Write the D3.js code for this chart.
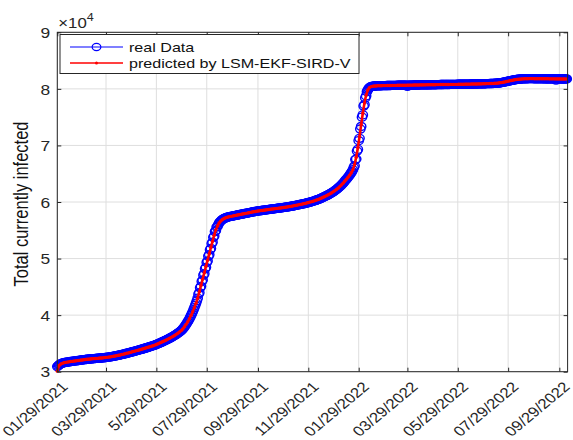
<!DOCTYPE html>
<html>
<head>
<meta charset="utf-8">
<script src="https://cdn.jsdelivr.net/npm/d3@7"></script>
<style>
  html, body { margin: 0; padding: 0; background: #fff; }
  svg { display: block; font-family: "Liberation Sans", Arial, Helvetica, sans-serif; }
</style>
</head>
<body>
<svg id="chart" width="573" height="440"></svg>
<script>
// ---- data ---------------------------------------------------------------
const startDate = "2021-01-29";   // first day of the series
const endDate = "2022-10-09";     // right end of the time axis

// Daily reported number of currently infected people (one value per day)
const realData = [
  30900, 31050, 31180, 31290, 31380, 31450, 31500, 31550, 31590, 31620,
  31650, 31670, 31700, 31720, 31740, 31760, 31790, 31810, 31830, 31850,
  31870, 31890, 31910, 31930, 31950, 31970, 31990, 32010, 32040, 32060,
  32080, 32100, 32120, 32140, 32150, 32170, 32190, 32200, 32220, 32240,
  32250, 32270, 32280, 32300, 32310, 32320, 32340, 32350, 32360, 32380,
  32390, 32400, 32410, 32420, 32430, 32450, 32460, 32480, 32500, 32520,
  32540, 32560, 32580, 32600, 32620, 32650, 32670, 32700, 32720, 32750,
  32780, 32810, 32840, 32870, 32900, 32930, 32960, 33000, 33030, 33070,
  33100, 33140, 33170, 33210, 33250, 33280, 33320, 33360, 33400, 33440,
  33480, 33520, 33560, 33600, 33640, 33680, 33720, 33760, 33800, 33840,
  33880, 33920, 33960, 34000, 34050, 34090, 34140, 34180, 34230, 34270,
  34320, 34360, 34410, 34460, 34500, 34550, 34600, 34650, 34700, 34760,
  34820, 34880, 34940, 35000, 35070, 35130, 35200, 35260, 35330, 35400,
  35470, 35540, 35610, 35680, 35760, 35830, 35910, 35990, 36070, 36150,
  36230, 36320, 36410, 36500, 36600, 36700, 36800, 36910, 37020, 37140,
  37260, 37390, 37560, 37740, 37940, 38150, 38370, 38600, 38840, 39090,
  39350, 39640, 39950, 40250, 40600, 40960, 41330, 41720, 42120, 42540,
  43000, 43710, 43970, 44830, 45090, 45950, 46210, 47070, 47330, 48190,
  48450, 49310, 49570, 50430, 50690, 51550, 51800, 52650, 52900, 53750,
  53980, 54780, 54930, 55560, 55670, 56010, 56300, 56480, 56640, 56780,
  56900, 57000, 57080, 57150, 57210, 57260, 57310, 57350, 57390, 57420,
  57450, 57480, 57510, 57540, 57570, 57600, 57630, 57660, 57690, 57720,
  57750, 57780, 57810, 57840, 57870, 57900, 57930, 57960, 57990, 58010,
  58040, 58070, 58100, 58130, 58160, 58190, 58220, 58250, 58280, 58310,
  58330, 58360, 58390, 58410, 58430, 58450, 58470, 58490, 58510, 58530,
  58550, 58570, 58590, 58610, 58630, 58650, 58670, 58690, 58710, 58730,
  58750, 58770, 58790, 58810, 58830, 58850, 58870, 58890, 58910, 58930,
  58950, 58970, 58990, 59010, 59030, 59050, 59070, 59090, 59110, 59140,
  59160, 59190, 59210, 59240, 59260, 59290, 59320, 59350, 59380, 59410,
  59440, 59470, 59500, 59530, 59560, 59590, 59620, 59650, 59680, 59710,
  59740, 59780, 59820, 59860, 59900, 59940, 59980, 60020, 60060, 60100,
  60150, 60200, 60250, 60300, 60350, 60400, 60450, 60510, 60570, 60630,
  60700, 60770, 60840, 60910, 60980, 61050, 61120, 61190, 61270, 61350,
  61430, 61510, 61600, 61690, 61790, 61890, 61990, 62100, 62210, 62330,
  62450, 62580, 62710, 62850, 63000, 63150, 63310, 63480, 63660, 63850,
  64000, 64180, 64360, 64550, 64750, 64960, 65180, 65420, 65700, 66100,
  66400, 67500, 67600, 69000, 69300, 70850, 71250, 72900, 73350, 75000,
  75400, 76950, 77200, 78400, 78750, 79500, 79800, 80050, 80220, 80330,
  80400, 80430, 80460, 80480, 80500, 80510, 80520, 80530, 80540, 80540,
  80550, 80550, 80560, 80560, 80570, 80570, 80580, 80580, 80580, 80590,
  80590, 80590, 80600, 80600, 80600, 80610, 80610, 80610, 80620, 80620,
  80620, 80620, 80630, 80630, 80630, 80630, 80640, 80640, 80640, 80640,
  80650, 80650, 80650, 80650, 80450, 80660, 80660, 80660, 80670, 80670,
  80670, 80670, 80680, 80680, 80680, 80680, 80690, 80690, 80690, 80690,
  80700, 80700, 80700, 80700, 80710, 80710, 80710, 80710, 80720, 80720,
  80720, 80720, 80730, 80730, 80730, 80730, 80740, 80740, 80740, 80740,
  80750, 80750, 80750, 80750, 80760, 80760, 80760, 80760, 80770, 80770,
  80770, 80770, 80780, 80780, 80780, 80780, 80790, 80790, 80790, 80790,
  80800, 80800, 80800, 80800, 80800, 80810, 80810, 80810, 80810, 80820,
  80820, 80820, 80820, 80830, 80830, 80830, 80830, 80840, 80840, 80840,
  80840, 80850, 80850, 80850, 80860, 80860, 80860, 80870, 80870, 80870,
  80880, 80880, 80880, 80890, 80890, 80900, 80900, 80900, 80910, 80910,
  80920, 80920, 80930, 80930, 80940, 80940, 80950, 80960, 80960, 80970,
  80980, 80990, 81000, 81010, 81030, 81050, 81070, 81090, 81110, 81140,
  81170, 81200, 81230, 81260, 81290, 81330, 81360, 81390, 81430, 81460,
  81490, 81520, 81550, 81580, 81600, 81630, 81650, 81670, 81690, 81710,
  81720, 81740, 81750, 81760, 81770, 81780, 81790, 81790, 81800, 81800,
  81800, 81810, 81810, 81810, 81810, 81810, 81810, 81800, 81800, 81800,
  81800, 81800, 81800, 81800, 81790, 81790, 81790, 81790, 81790, 81790,
  81780, 81780, 81780, 81780, 81780, 81780, 81770, 81770, 81770, 81770,
  81770, 81770, 81770, 81760, 81550, 81760, 81760, 81760, 81760, 81760,
  81750, 81750, 81750, 81750, 81750, 81750, 81750, 81750
];

// Model estimate, one value every predictedStep days
const predictedStep = 2;
const predictedData = [
  30100, 31050, 31330, 31480, 31580, 31650, 31700, 31740, 31790, 31830,
  31870, 31910, 31950, 31990, 32040, 32080, 32120, 32150, 32190, 32220,
  32250, 32280, 32310, 32340, 32360, 32390, 32410, 32430, 32460, 32500,
  32540, 32580, 32620, 32670, 32720, 32780, 32840, 32900, 32960, 33030,
  33100, 33170, 33250, 33320, 33400, 33480, 33560, 33640, 33720, 33800,
  33880, 33960, 34050, 34140, 34230, 34320, 34410, 34500, 34600, 34700,
  34820, 34940, 35070, 35200, 35330, 35470, 35610, 35760, 35910, 36070,
  36230, 36410, 36600, 36800, 37020, 37260, 37560, 37940, 38370, 38840,
  39350, 39950, 40600, 41330, 42120, 43000, 44120, 45240, 46360, 47480,
  48600, 49720, 50840, 51950, 53050, 54130, 55080, 55770, 56300, 56640,
  56900, 57080, 57210, 57310, 57390, 57450, 57510, 57570, 57630, 57690,
  57750, 57810, 57870, 57930, 57990, 58040, 58100, 58160, 58220, 58280,
  58330, 58390, 58430, 58470, 58510, 58550, 58590, 58630, 58670, 58710,
  58750, 58790, 58830, 58870, 58910, 58950, 58990, 59030, 59070, 59110,
  59160, 59210, 59260, 59320, 59380, 59440, 59500, 59560, 59620, 59680,
  59740, 59820, 59900, 59980, 60060, 60150, 60250, 60350, 60450, 60570,
  60700, 60840, 60980, 61120, 61270, 61430, 61600, 61790, 61990, 62210,
  62450, 62710, 63000, 63310, 63660, 64000, 64360, 64750, 65180, 65700,
  66600, 67900, 69600, 71550, 73650, 75700, 77500, 78900, 79800, 80220,
  80400, 80460, 80500, 80520, 80540, 80550, 80560, 80570, 80580, 80580,
  80590, 80600, 80600, 80610, 80620, 80620, 80630, 80630, 80640, 80640,
  80650, 80650, 80660, 80660, 80670, 80670, 80680, 80680, 80690, 80690,
  80700, 80700, 80710, 80710, 80720, 80720, 80730, 80730, 80740, 80740,
  80750, 80750, 80760, 80760, 80770, 80770, 80780, 80780, 80790, 80790,
  80800, 80800, 80800, 80810, 80810, 80820, 80820, 80830, 80830, 80840,
  80840, 80850, 80860, 80860, 80870, 80880, 80880, 80890, 80900, 80910,
  80920, 80930, 80940, 80950, 80960, 80980, 81000, 81030, 81070, 81110,
  81170, 81230, 81290, 81360, 81430, 81490, 81550, 81600, 81650, 81690,
  81720, 81750, 81770, 81790, 81800, 81800, 81810, 81810, 81810, 81800,
  81800, 81800, 81790, 81790, 81790, 81780, 81780, 81780, 81770, 81770,
  81770, 81770, 81760, 81760, 81760, 81750, 81750, 81750, 81750
];

const xTickDates = ["2021-01-29", "2021-03-29", "2021-05-29", "2021-07-29", "2021-09-29",
                    "2021-11-29", "2022-01-29", "2022-03-29", "2022-05-29", "2022-07-29", "2022-09-29"];
const xTickLabels = ["01/29/2021", "03/29/2021", "5/29/2021", "07/29/2021", "09/29/2021",
                     "11/29/2021", "01/29/2022", "03/29/2022", "05/29/2022", "07/29/2022", "09/29/2022"];
const yTicks = [30000, 40000, 50000, 60000, 70000, 80000, 90000];
const yTickLabels = ["3", "4", "5", "6", "7", "8", "9"];
const yExponent = "4";
const yTitle = "Total currently infected";
const legendLabels = ["real Data", "predicted by LSM-EKF-SIRD-V"];

// ---- layout -------------------------------------------------------------
const box = { left: 57.3, top: 32.3, right: 567.6, bottom: 371.7 };
const SX = 1.2;                 // horizontal widening applied to text and markers
const ink = "#262626";
const gridColor = "#dedede";
const blue = "#0000ff";
const red = "#ff0000";

const parse = d3.utcParse("%Y-%m-%d");
const t0 = parse(startDate);
const svg = d3.select("#chart");

const x = d3.scaleUtc().domain([t0, parse(endDate)]).range([box.left, box.right]);
const y = d3.scaleLinear().domain([30000, 90000]).range([box.bottom, box.top]);
const tickDates = xTickDates.map(parse);

const realPts = realData.map((v, i) => ({ t: d3.utcDay.offset(t0, i), v }));
const predPts = predictedData.map((v, i) => ({ t: d3.utcDay.offset(t0, i * predictedStep), v }));

// ---- grid ---------------------------------------------------------------
const grid = svg.append("g");
grid.selectAll("line.gx").data(tickDates).join("line")
  .attr("x1", d => x(d)).attr("x2", d => x(d))
  .attr("y1", box.top).attr("y2", box.bottom)
  .attr("stroke", gridColor).attr("stroke-width", 1);
grid.selectAll("line.gy").data(yTicks).join("line")
  .attr("x1", box.left).attr("x2", box.right)
  .attr("y1", d => y(d)).attr("y2", d => y(d))
  .attr("stroke", gridColor).attr("stroke-width", 1);

// ---- series -------------------------------------------------------------
const line = d3.line().x(d => x(d.t)).y(d => y(d.v));

svg.append("path").datum(realPts)
  .attr("d", line).attr("fill", "none").attr("stroke", blue).attr("stroke-width", 1);
svg.append("g").selectAll("ellipse").data(realPts).join("ellipse")
  .attr("cx", d => x(d.t)).attr("cy", d => y(d.v))
  .attr("rx", 3.9 * SX).attr("ry", 4.0)
  .attr("fill", "none").attr("stroke", blue).attr("stroke-width", 1.4);

svg.append("path").datum(predPts)
  .attr("d", line).attr("fill", "none").attr("stroke", red).attr("stroke-width", 2.6);
svg.append("g").selectAll("circle").data(predPts).join("circle")
  .attr("cx", d => x(d.t)).attr("cy", d => y(d.v)).attr("r", 1.7).attr("fill", red);

// ---- axes ---------------------------------------------------------------
function styleAxis(g) {
  g.attr("font-family", null).attr("font-size", null);
  g.selectAll("line").attr("stroke", ink);
  g.selectAll(".domain").remove();
}

const xAxis = svg.append("g").attr("transform", `translate(0,${box.bottom})`)
  .call(d3.axisBottom(x).tickValues(tickDates).tickSizeInner(-4).tickSizeOuter(0)
    .tickFormat((d, i) => xTickLabels[i]))
  .call(styleAxis);
xAxis.selectAll("text")
  .attr("y", 0).attr("dy", 0)
  .attr("text-anchor", "end")
  .attr("fill", ink).attr("font-size", 14)
  .attr("transform", `translate(11,16) scale(${SX},1) rotate(-45)`);

svg.append("g").attr("transform", `translate(0,${box.top})`)
  .call(d3.axisTop(x).tickValues(tickDates).tickSizeInner(-4).tickSizeOuter(0).tickFormat(""))
  .call(styleAxis);

const yAxis = svg.append("g").attr("transform", `translate(${box.left},0)`)
  .call(d3.axisLeft(y).tickValues(yTicks).tickSizeInner(-4).tickSizeOuter(0)
    .tickFormat((d, i) => yTickLabels[i]))
  .call(styleAxis);
yAxis.selectAll("text")
  .attr("x", 0).attr("dy", "0.36em")
  .attr("text-anchor", "end")
  .attr("fill", ink).attr("font-size", 14.5)
  .attr("transform", `translate(-7,0) scale(${SX},1)`);

svg.append("g").attr("transform", `translate(${box.right},0)`)
  .call(d3.axisRight(y).tickValues(yTicks).tickSizeInner(-4).tickSizeOuter(0).tickFormat(""))
  .call(styleAxis);

svg.append("rect")
  .attr("x", box.left).attr("y", box.top)
  .attr("width", box.right - box.left).attr("height", box.bottom - box.top)
  .attr("fill", "none").attr("stroke", ink).attr("stroke-width", 1);

// exponent marker above the y axis
const expo = svg.append("text")
  .attr("transform", `translate(${box.left + 1},${box.top - 4}) scale(${SX},1)`)
  .attr("fill", ink).attr("font-size", 14);
expo.append("tspan").text("\u00d7");
expo.append("tspan").text("10");
expo.append("tspan").attr("dy", -7).attr("font-size", 10.5).text(yExponent);

// y-axis title
svg.append("text")
  .attr("transform", `translate(28,${(box.top + box.bottom) / 2 + 2}) scale(${SX},1) rotate(-90)`)
  .attr("text-anchor", "middle")
  .attr("fill", "#111").attr("font-size", 16.5)
  .text(yTitle);

// ---- legend -------------------------------------------------------------
const lg = svg.append("g");
lg.append("rect")
  .attr("x", 60).attr("y", 34.5).attr("width", 299).attr("height", 39)
  .attr("fill", "#fff").attr("stroke", ink).attr("stroke-width", 1);
const rows = [
  { label: legendLabels[0], color: blue, marker: "circle" },
  { label: legendLabels[1], color: red, marker: "dot" }
];
rows.forEach((r, i) => {
  const cy = 47 + i * 16;
  lg.append("line").attr("x1", 70).attr("x2", 123).attr("y1", cy).attr("y2", cy)
    .attr("stroke", r.color).attr("stroke-width", r.marker === "dot" ? 1.3 : 1.2);
  if (r.marker === "circle") {
    lg.append("ellipse").attr("cx", 96.5).attr("cy", cy).attr("rx", 3.6 * SX).attr("ry", 3.6)
      .attr("fill", "none").attr("stroke", r.color).attr("stroke-width", 1.2);
  } else {
    lg.append("circle").attr("cx", 96.5).attr("cy", cy).attr("r", 1.5).attr("fill", r.color);
  }
  lg.append("text")
    .attr("transform", `translate(129,${cy}) scale(${SX},1)`)
    .attr("dy", "0.36em").attr("fill", "#111").attr("font-size", 13.4)
    .text(r.label);
});
</script>
</body>
</html>
